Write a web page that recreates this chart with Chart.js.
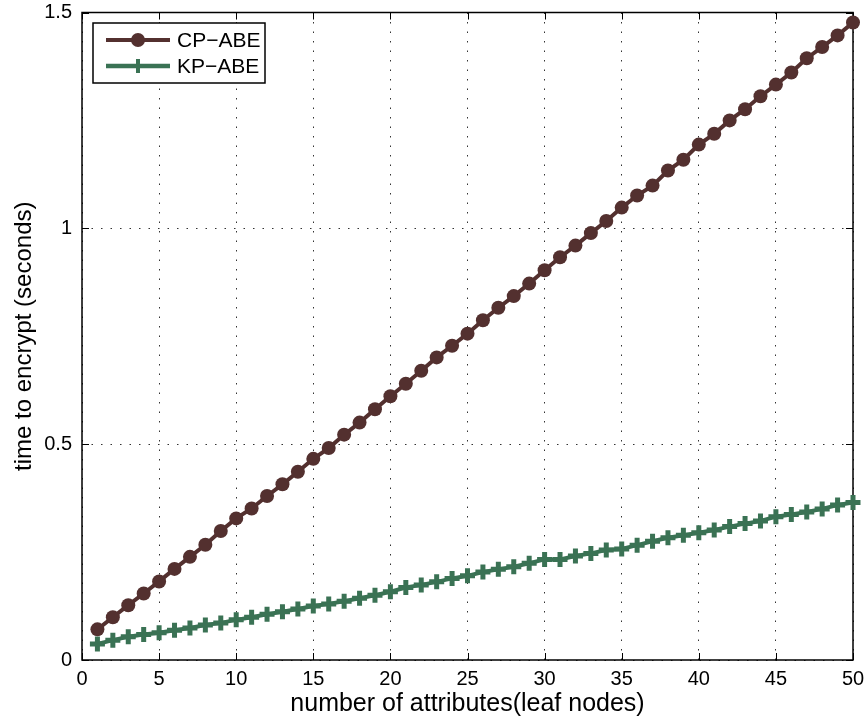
<!DOCTYPE html>
<html>
<head>
<meta charset="utf-8">
<script src="https://cdn.jsdelivr.net/npm/chart.js@4/dist/chart.umd.min.js"></script>
<style>
  html, body { margin: 0; padding: 0; background: #fff; }
  #wrap { width: 868px; height: 723px; }
</style>
</head>
<body>
<div id="wrap"><canvas id="chart" width="868" height="723"></canvas></div>
<script>
// number of attributes (leaf nodes)
const attributes = [1,2,3,4,5,6,7,8,9,10,11,12,13,14,15,16,17,18,19,20,21,22,23,24,25,
  26,27,28,29,30,31,32,33,34,35,36,37,38,39,40,41,42,43,44,45,46,47,48,49,50]
// time to encrypt (seconds)
const cpAbe = [0.071,0.099,0.127,0.154,0.182,0.211,0.239,0.267,0.299,0.328,
  0.351,0.380,0.407,0.436,0.466,0.491,0.522,0.550,0.581,0.611,
  0.640,0.670,0.701,0.728,0.756,0.787,0.816,0.843,0.872,0.903,
  0.933,0.960,0.989,1.017,1.048,1.076,1.099,1.134,1.159,1.194,
  1.219,1.250,1.276,1.306,1.333,1.361,1.394,1.420,1.447,1.477]
const kpAbe = [0.037,0.046,0.054,0.059,0.063,0.069,0.074,0.081,0.086,0.093,
  0.099,0.106,0.112,0.118,0.125,0.130,0.136,0.143,0.150,0.158,
  0.168,0.174,0.181,0.189,0.195,0.204,0.210,0.216,0.224,0.233,
  0.233,0.241,0.247,0.255,0.257,0.266,0.275,0.283,0.289,0.295,
  0.301,0.309,0.316,0.322,0.332,0.337,0.343,0.350,0.359,0.365]
const xTicks = [0,5,10,15,20,25,30,35,40,45,50]
const yTicks = [0,0.5,1,1.5]
const seriesNames = ['CP\u2212ABE', 'KP\u2212ABE']

const cpColor = '#53302f'
const kpColor = '#3a7254'
const font = 'Liberation Sans, Arial, Helvetica, sans-serif'

const toPoints = vals => vals.map((v, i) => ({ x: attributes[i], y: v }))

// frame + inward tick marks, matlab style
const framePlugin = {
  id: 'frame',
  beforeDatasetsDraw(chart) {
    const { ctx, chartArea: a, scales } = chart
    ctx.save()
    ctx.strokeStyle = '#000'
    ctx.lineWidth = 1.5
    ctx.strokeRect(a.left, a.top, a.right - a.left, a.bottom - a.top)
    ctx.lineWidth = 1
    xTicks.forEach(t => {
      const px = Math.round(scales.x.getPixelForValue(t)) + 0.5
      ctx.beginPath()
      ctx.moveTo(px, a.bottom); ctx.lineTo(px, a.bottom - 7)
      ctx.moveTo(px, a.top); ctx.lineTo(px, a.top + 7)
      ctx.stroke()
    })
    yTicks.forEach(t => {
      const py = Math.round(scales.y.getPixelForValue(t)) + 0.5
      ctx.beginPath()
      ctx.moveTo(a.left, py); ctx.lineTo(a.left + 7, py)
      ctx.moveTo(a.right, py); ctx.lineTo(a.right - 7, py)
      ctx.stroke()
    })
    ctx.restore()
  }
}

const legendPlugin = {
  id: 'boxLegend',
  afterDraw(chart) {
    const ctx = chart.ctx
    const x0 = 93, y0 = 23, w = 172, h = 60
    ctx.save()
    ctx.fillStyle = '#fff'
    ctx.fillRect(x0, y0, w, h)
    ctx.strokeStyle = '#000'
    ctx.lineWidth = 1.5
    ctx.strokeRect(x0, y0, w, h)
    const rows = [
      { name: seriesNames[0], color: cpColor, y: 40, lw: 4, marker: 'circle' },
      { name: seriesNames[1], color: kpColor, y: 66, lw: 4.5, marker: 'cross' }
    ]
    rows.forEach(r => {
      ctx.strokeStyle = r.color
      ctx.lineWidth = r.lw
      ctx.beginPath(); ctx.moveTo(106, r.y); ctx.lineTo(170, r.y); ctx.stroke()
      if (r.marker === 'circle') {
        ctx.fillStyle = r.color
        ctx.beginPath(); ctx.arc(138, r.y, 7, 0, Math.PI * 2); ctx.fill()
      } else {
        ctx.lineWidth = 4
        ctx.beginPath()
        ctx.moveTo(138, r.y - 7); ctx.lineTo(138, r.y + 7)
        ctx.moveTo(131, r.y); ctx.lineTo(145, r.y)
        ctx.stroke()
      }
      ctx.fillStyle = '#000'
      ctx.font = '21px ' + font
      ctx.textBaseline = 'middle'
      ctx.textAlign = 'left'
      ctx.fillText(r.name, 177, r.y + 1)
    })
    ctx.restore()
  }
}

new Chart(document.getElementById('chart'), {
  type: 'line',
  data: {
    datasets: [{
      label: seriesNames[0],
      data: toPoints(cpAbe),
      borderColor: cpColor,
      backgroundColor: cpColor,
      borderWidth: 4,
      pointStyle: 'circle',
      pointRadius: 7,
      pointBorderWidth: 0,
      pointBackgroundColor: cpColor,
      tension: 0,
      clip: false
    }, {
      label: seriesNames[1],
      data: toPoints(kpAbe),
      borderColor: kpColor,
      backgroundColor: kpColor,
      borderWidth: 4,
      pointStyle: 'cross',
      pointRadius: 7.5,
      pointBorderWidth: 5,
      pointBorderColor: kpColor,
      tension: 0,
      clip: false
    }]
  },
  options: {
    responsive: false,
    animation: false,
    layout: { padding: { left: 0, right: 15, top: 12, bottom: 0 } },
    plugins: { legend: { display: false }, tooltip: { enabled: false } },
    scales: {
      x: {
        type: 'linear',
        min: 0, max: 50,
        afterFit: s => { s.height = 63; s.paddingLeft = 0; s.paddingRight = 0 },
        afterBuildTicks: s => { s.ticks = xTicks.map(v => ({ value: v })) },
        ticks: { color: '#000', padding: 7, maxRotation: 0, font: { family: font, size: 20 } },
        grid: { color: '#333', lineWidth: 1, drawTicks: false },
        border: { display: false, dash: [1.5, 8] },
        title: { display: true, text: 'number of attributes(leaf nodes)', color: '#000',
          font: { family: font, size: 25 }, padding: { top: 0, bottom: 4 } }
      },
      y: {
        type: 'linear',
        min: 0, max: 1.5,
        afterFit: s => { s.width = 82; s.paddingTop = 0; s.paddingBottom = 0 },
        afterBuildTicks: s => { s.ticks = yTicks.map(v => ({ value: v })) },
        ticks: { color: '#000', padding: 10, font: { family: font, size: 20 },
          callback: v => String(v) },
        grid: { color: '#333', lineWidth: 1, drawTicks: false },
        border: { display: false, dash: [1.5, 8] },
        title: { display: true, text: 'time to encrypt (seconds)', color: '#000',
          font: { family: font, size: 24 }, padding: { top: 10, bottom: 0 } }
      }
    }
  },
  plugins: [framePlugin, legendPlugin]
})
</script>
</body>
</html>
